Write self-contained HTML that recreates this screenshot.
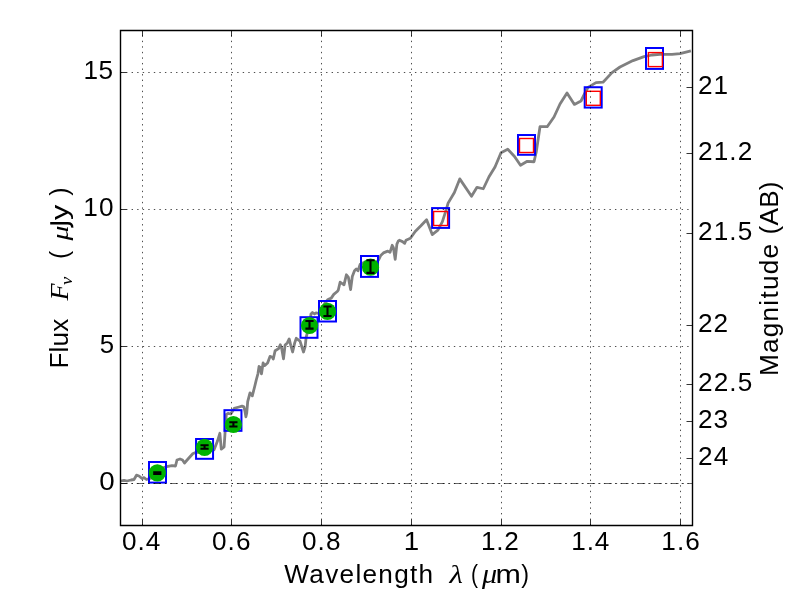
<!DOCTYPE html><html><head><meta charset="utf-8"><style>html,body{margin:0;padding:0;background:#fff}svg{display:block}text{fill:#000;stroke:#000;stroke-width:0.0}</style></head><body>
<svg width="800" height="600" viewBox="0 0 800 600" style="will-change:transform">
<rect width="800" height="600" fill="#fff"/>
<path d="M120.50 481.00 L124.00 480.30 L127.00 481.00 L131.00 480.00 L134.00 479.50 L136.50 475.20 L139.00 476.00 L142.00 478.50 L144.00 477.60 L146.50 479.50 L148.00 479.00 L152.00 478.00 L158.00 472.00 L163.00 468.00 L166.60 466.60 L172.00 465.60 L175.50 466.00 L177.00 460.00 L180.00 459.00 L182.50 460.00 L184.50 463.00 L188.00 459.00 L193.00 453.50 L195.60 452.60 L200.00 452.00 L205.00 450.00 L210.00 448.00 L214.05 449.70 L217.40 441.30 L219.85 433.30 L221.30 449.20 L224.10 446.90 L225.00 433.50 L226.30 414.50 L228.00 413.40 L230.80 414.00 L234.20 408.40 L239.00 407.00 L242.00 406.10 L243.90 406.90 L245.00 411.50 L245.90 416.80 L246.70 413.30 L247.70 401.70 L250.00 392.90 L252.30 395.80 L254.70 386.50 L256.25 380.00 L258.00 373.50 L259.05 366.50 L260.20 367.40 L261.50 373.90 L263.10 363.00 L264.60 365.60 L267.60 363.00 L270.00 356.40 L272.40 357.30 L273.30 359.00 L275.10 350.75 L278.60 348.60 L280.30 344.80 L281.60 348.10 L283.50 358.80 L285.10 345.00 L287.30 342.90 L289.20 338.90 L290.80 345.50 L292.60 352.00 L294.70 342.90 L296.30 338.30 L300.00 341.10 L303.50 352.00 L305.20 346.40 L306.10 337.60 L307.00 334.10 L309.60 327.00 L310.50 318.00 L311.00 314.00 L312.50 312.50 L314.50 314.00 L316.00 312.80 L318.50 313.50 L322.00 308.00 L325.00 303.00 L328.00 299.50 L331.25 298.10 L333.75 294.40 L337.50 291.25 L338.30 290.00 L340.10 282.20 L344.00 284.80 L346.40 274.75 L348.40 277.40 L350.60 289.60 L352.30 276.50 L354.50 270.80 L356.25 269.10 L358.00 270.80 L360.20 264.25 L365.00 262.00 L370.00 262.50 L375.00 264.00 L378.60 259.90 L380.75 255.50 L383.40 252.90 L387.75 251.10 L390.00 252.40 L392.20 245.30 L393.40 247.60 L395.20 259.40 L396.90 244.10 L398.20 241.20 L399.40 240.25 L402.50 241.60 L404.70 243.30 L406.00 240.25 L410.40 238.20 L415.20 231.50 L420.90 225.80 L426.60 219.70 L432.25 234.60 L437.90 230.20 L442.30 221.90 L446.25 209.60 L448.10 203.10 L454.40 192.50 L459.75 178.90 L471.50 196.25 L477.00 187.30 L483.30 188.75 L489.00 176.75 L495.00 167.00 L501.00 152.75 L507.75 149.30 L514.50 156.50 L520.50 165.20 L527.25 161.30 L534.00 161.75 L536.25 152.00 L540.00 126.70 L547.20 126.70 L554.00 117.00 L560.00 104.00 L567.00 93.00 L574.40 104.40 L581.00 101.00 L585.00 93.00 L588.00 87.40 L596.00 82.60 L603.00 82.20 L612.00 72.60 L620.00 67.00 L633.00 60.60 L644.00 56.60 L652.00 55.00 L660.00 54.40 L672.00 54.40 L680.00 53.60 L690.90 50.90" stroke="#808080" stroke-width="2.8" fill="none" stroke-linejoin="round" stroke-linecap="butt"/>
<g stroke="#00f" stroke-width="2" fill="none">
<rect x="149.00" y="462.00" width="17.0" height="20.6"/>
<rect x="196.05" y="439.00" width="17.0" height="19.8"/>
<rect x="224.45" y="410.18" width="17.0" height="20.65"/>
<rect x="300.50" y="317.20" width="17.0" height="20.6"/>
<rect x="319.00" y="301.00" width="17.0" height="20.5"/>
<rect x="361.00" y="256.00" width="17.0" height="20.9"/>
<rect x="432.10" y="208.10" width="17.0" height="19.8"/>
<rect x="518.00" y="135.03" width="17.0" height="19.75"/>
<rect x="584.70" y="87.23" width="17.0" height="20.35"/>
<rect x="646.00" y="48.00" width="17.0" height="20.9"/>
</g>
<g stroke="#f00" stroke-width="1.4" fill="none">
<rect x="433.60" y="211.50" width="14.0" height="14.0"/>
<rect x="519.50" y="138.50" width="14.0" height="14.0"/>
<rect x="586.30" y="91.30" width="14.0" height="14.0"/>
<rect x="648.40" y="52.60" width="14.0" height="14.0"/>
</g>
<g stroke="#000" stroke-width="0.7" stroke-dasharray="1.39 4.166" fill="none">
<path d="M142.50 525.5V30.5"/>
<path d="M231.50 525.5V30.5"/>
<path d="M321.50 525.5V30.5"/>
<path d="M411.50 525.5V30.5"/>
<path d="M501.50 525.5V30.5"/>
<path d="M590.50 525.5V30.5"/>
<path d="M680.50 525.5V30.5"/>
<path d="M120.5 483.50H692.5"/>
<path d="M120.5 346.50H692.5"/>
<path d="M120.5 209.50H692.5"/>
<path d="M120.5 72.50H692.5"/>
</g>
<path d="M120.5 483.50H692.5" stroke="#000" stroke-width="0.6" stroke-dasharray="7.5 3.95 1.4 3.85" stroke-dashoffset="0.5" fill="none"/>
<circle cx="157.3" cy="472.9" r="8.6" fill="#00b300"/>
<circle cx="204.55" cy="447.3" r="8.6" fill="#00b300"/>
<circle cx="233.4" cy="424.5" r="8.6" fill="#00b300"/>
<circle cx="309.5" cy="325.5" r="8.6" fill="#00b300"/>
<circle cx="327.5" cy="311.4" r="8.6" fill="#00b300"/>
<circle cx="370.5" cy="267.2" r="8.6" fill="#00b300"/>
<path d="M157.3 472.2V473.9" stroke="#000" stroke-width="2.1" fill="none"/>
<path d="M153.20000000000002 472.2H161.4M153.20000000000002 473.9H161.4" stroke="#000" stroke-width="2.1" fill="none"/>
<path d="M204.55 445.2V448.7" stroke="#000" stroke-width="2.1" fill="none"/>
<path d="M200.45000000000002 445.2H208.65M200.45000000000002 448.7H208.65" stroke="#000" stroke-width="2.1" fill="none"/>
<path d="M233.4 422.2V426.5" stroke="#000" stroke-width="2.1" fill="none"/>
<path d="M229.3 422.2H237.5M229.3 426.5H237.5" stroke="#000" stroke-width="2.1" fill="none"/>
<path d="M309.5 321.0V328.6" stroke="#000" stroke-width="2.1" fill="none"/>
<path d="M305.4 321.0H313.6M305.4 328.6H313.6" stroke="#000" stroke-width="2.1" fill="none"/>
<path d="M327.5 306.5V316.0" stroke="#000" stroke-width="2.1" fill="none"/>
<path d="M323.4 306.5H331.6M323.4 316.0H331.6" stroke="#000" stroke-width="2.1" fill="none"/>
<path d="M370.5 260.2V272.9" stroke="#000" stroke-width="2.1" fill="none"/>
<path d="M366.4 260.2H374.6M366.4 272.9H374.6" stroke="#000" stroke-width="2.1" fill="none"/>
<path d="M120.5 30.5H692.5M692.5 30.5V525.5M692.5 525.5H120.5M120.5 525.5V30.5" fill="none" stroke="#000" stroke-width="1.4" stroke-linecap="square"/>
<g stroke="#000" stroke-width="0.8" fill="none">
<path d="M142.50 525.5v-6M142.50 30.5v6"/>
<path d="M231.50 525.5v-6M231.50 30.5v6"/>
<path d="M321.50 525.5v-6M321.50 30.5v6"/>
<path d="M411.50 525.5v-6M411.50 30.5v6"/>
<path d="M501.50 525.5v-6M501.50 30.5v6"/>
<path d="M590.50 525.5v-6M590.50 30.5v6"/>
<path d="M680.50 525.5v-6M680.50 30.5v6"/>
<path d="M120.5 483.50h6"/>
<path d="M120.5 346.50h6"/>
<path d="M120.5 209.50h6"/>
<path d="M120.5 72.50h6"/>
<path d="M692.5 87.50h-6"/>
<path d="M692.5 153.50h-6"/>
<path d="M692.5 233.50h-6"/>
<path d="M692.5 325.50h-6"/>
<path d="M692.5 384.50h-6"/>
<path d="M692.5 421.50h-6"/>
<path d="M692.5 458.50h-6"/>
</g>
<text transform="translate(121.97,550.00) scale(1.0300,1.0141)" font-size="25.4" letter-spacing="0.920" style="font-family:'Liberation Sans',sans-serif">0.4</text>
<text transform="translate(211.97,550.00) scale(1.0300,1.0141)" font-size="25.4" letter-spacing="1.045" style="font-family:'Liberation Sans',sans-serif">0.6</text>
<text transform="translate(301.97,550.00) scale(1.0300,1.0000)" font-size="25.4" letter-spacing="1.045" style="font-family:'Liberation Sans',sans-serif">0.8</text>
<text transform="translate(403.82,550.00) scale(1.0909,1.0286)" font-size="25.4" style="font-family:'Liberation Sans',sans-serif">1</text>
<text transform="translate(480.94,550.00) scale(1.0300,1.0141)" font-size="25.4" letter-spacing="0.699" style="font-family:'Liberation Sans',sans-serif">1.2</text>
<text transform="translate(571.34,550.00) scale(1.0300,1.0286)" font-size="25.4" letter-spacing="0.837" style="font-family:'Liberation Sans',sans-serif">1.4</text>
<text transform="translate(661.34,550.00) scale(1.0300,1.0141)" font-size="25.4" letter-spacing="0.962" style="font-family:'Liberation Sans',sans-serif">1.6</text>
<text transform="translate(83.54,79.00) scale(1.0300,1.0286)" font-size="25.4" letter-spacing="0.381" style="font-family:'Liberation Sans',sans-serif">15</text>
<text transform="translate(83.24,216.20) scale(1.0300,1.0141)" font-size="25.4" letter-spacing="1.158" style="font-family:'Liberation Sans',sans-serif">10</text>
<text transform="translate(99.68,353.00) scale(1.0167,1.0286)" font-size="25.4" style="font-family:'Liberation Sans',sans-serif">5</text>
<text transform="translate(99.21,490.20) scale(1.0917,1.0141)" font-size="25.4" style="font-family:'Liberation Sans',sans-serif">0</text>
<text transform="translate(698.01,94.10) scale(1.0300,1.0141)" font-size="25.4" letter-spacing="0.949" style="font-family:'Liberation Sans',sans-serif">21</text>
<text transform="translate(698.01,160.10) scale(1.0300,1.0141)" font-size="25.4" letter-spacing="1.065" style="font-family:'Liberation Sans',sans-serif">21.2</text>
<text transform="translate(698.01,240.10) scale(1.0300,1.0141)" font-size="25.4" letter-spacing="1.065" style="font-family:'Liberation Sans',sans-serif">21.5</text>
<text transform="translate(698.01,332.10) scale(1.0300,1.0141)" font-size="25.4" letter-spacing="0.949" style="font-family:'Liberation Sans',sans-serif">22</text>
<text transform="translate(698.01,391.10) scale(1.0300,1.0141)" font-size="25.4" letter-spacing="1.065" style="font-family:'Liberation Sans',sans-serif">22.5</text>
<text transform="translate(698.01,428.10) scale(1.0300,1.0141)" font-size="25.4" letter-spacing="0.949" style="font-family:'Liberation Sans',sans-serif">23</text>
<text transform="translate(698.01,465.10) scale(1.0300,1.0141)" font-size="25.4" letter-spacing="1.226" style="font-family:'Liberation Sans',sans-serif">24</text>
<text transform="translate(284.34,583.00) scale(1.0300,1.0378)" font-size="25.4" letter-spacing="1.253" style="font-family:'Liberation Sans',sans-serif">Wavelength</text>
<text transform="translate(449.61,583.00) scale(1.2186,1.0028)" font-size="25.4" font-style="italic" style="font-family:'Liberation Serif',serif">λ</text>
<text transform="translate(471.06,583.00) scale(0.8296,1.0378)" font-size="25.4" style="font-family:'Liberation Sans',sans-serif">(</text>
<text transform="translate(481.90,583.00) scale(1.1915,1.0348)" font-size="25.4" font-style="italic" style="font-family:'Liberation Serif',serif">μ</text>
<text transform="translate(495.60,583.00) scale(1.2000,0.9891)" font-size="25.4" style="font-family:'Liberation Sans',sans-serif">m</text>
<text transform="translate(521.37,583.00) scale(0.9185,1.0378)" font-size="25.4" style="font-family:'Liberation Sans',sans-serif">)</text>
<text transform="translate(67.60,366.40) rotate(-90) translate(-2.06,0) scale(1.0300,1.0054)" font-size="25.4" letter-spacing="0.090" style="font-family:'Liberation Sans',sans-serif">Flux</text>
<text transform="translate(67.80,300.60) rotate(-90) translate(-0.00,0) scale(1.1048,0.9910)" font-size="25.4" font-style="italic" style="font-family:'Liberation Serif',serif">F</text>
<text transform="translate(72.00,284.80) rotate(-90) translate(-0.26,0) scale(1.0323,0.9697)" font-size="18" font-style="italic" style="font-family:'Liberation Serif',serif">ν</text>
<text transform="translate(67.60,257.60) rotate(-90) translate(-1.47,0) scale(0.9778,1.0054)" font-size="25.4" style="font-family:'Liberation Sans',sans-serif">(</text>
<text transform="translate(67.60,240.40) rotate(-90) translate(-0.00,0) scale(1.1745,0.8696)" font-size="25.4" font-style="italic" style="font-family:'Liberation Serif',serif">μ</text>
<text transform="translate(67.60,220.00) rotate(-90) translate(-0.00,0) scale(1.2000,0.9630)" font-size="25.4" style="font-family:'Liberation Sans',sans-serif">y</text>
<text transform="translate(67.60,195.60) rotate(-90) translate(-0.24,0) scale(0.9778,1.0054)" font-size="25.4" style="font-family:'Liberation Sans',sans-serif">)</text>
<text transform="translate(778.00,374.00) rotate(-90) translate(-2.06,0) scale(1.0300,1.0270)" font-size="25.4" letter-spacing="1.218" style="font-family:'Liberation Sans',sans-serif">Magnitude</text>
<text transform="translate(778.00,233.00) rotate(-90) translate(-1.54,0) scale(1.0300,1.0270)" font-size="25.4" letter-spacing="0.265" style="font-family:'Liberation Sans',sans-serif">(AB)</text>
<path d="M50.2 223.2H67.6C71 223.2 72.4 224.6 72.2 227.7" fill="none" stroke="#000" stroke-width="2.4"/>
</svg></body></html>
